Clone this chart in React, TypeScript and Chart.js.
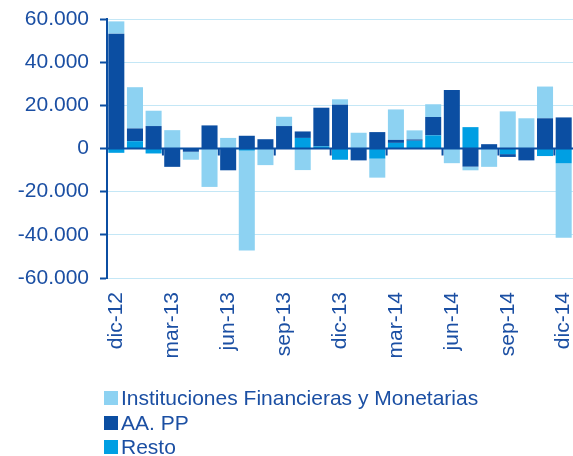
import React, { useEffect, useRef } from "react";
import { Chart, registerables } from "chart.js";
Chart.register(...registerables);

const categories = ["dic-12","ene-13","feb-13","mar-13","abr-13","may-13","jun-13","jul-13","ago-13","sep-13","oct-13","nov-13","dic-13","ene-14","feb-14","mar-14","abr-14","may-14","jun-14","jul-14","ago-14","sep-14","oct-14","nov-14","dic-14"];
const resto = [-2000, 3400, -2300, 0, 0, 0, 0, -1000, 0, 0, 4900, 1000, -5200, 0, -4700, 2600, 3600, 6100, 0, 9900, 0, -2600, 0, -3500, -6900];
const aapp = [53200, 5900, 10400, -8500, -1500, 10700, -10100, 5900, 4300, 10400, 3000, 17900, 20300, -5500, 7600, 1400, 600, 8500, 27100, -8400, 2000, -1300, -5500, 14000, 14400];
const ifm = [5700, 19100, 7100, 8500, -3700, -17800, 4900, -46300, -7700, 4300, -10000, 0, 2500, 7300, -8800, 14100, 4200, 5900, -6800, -1700, -8500, 17200, 14000, 14700, -34500];
const seriesNames = ["Instituciones Financieras y Monetarias", "AA. PP", "Resto"];
const yMin = -60000;
const yMax = 60000;
const yStep = 20000;

const C_LIGHT = "#8dd2f2";
const C_DARK = "#0b4ea2";
const C_MID = "#009fe3";
const C_TEXT = "#1b4fa3";
const C_GRID = "#c4e7f6";
const FONT = "'Liberation Sans', Arial, sans-serif";
const FS = 21;

const fmt = (v: number) => {
  const s = Math.abs(v).toString().replace(/\B(?=(\d{3})+(?!\d))/g, ".");
  return (v < 0 ? "-" : "") + s;
};

const zeroLinePlugin = {
  id: "zeroLine",
  afterDatasetsDraw(chart: any) {
    const { ctx, chartArea, scales } = chart;
    const x = scales.x;
    const y = scales.y;
    const y0 = y.getPixelForValue(0);
    ctx.save();
    ctx.strokeStyle = C_DARK;
    ctx.lineWidth = 2;
    ctx.beginPath();
    ctx.moveTo(chartArea.left, y0);
    ctx.lineTo(chartArea.right, y0);
    ctx.stroke();
    for (let i = 3; i < categories.length; i += 3) {
      const xb = (x.getPixelForValue(i - 1) + x.getPixelForValue(i)) / 2;
      ctx.beginPath();
      ctx.moveTo(xb, y0);
      ctx.lineTo(xb, y0 + 7);
      ctx.stroke();
    }
    ctx.restore();
  },
};

export default function App() {
  const ref = useRef<HTMLCanvasElement | null>(null);
  useEffect(() => {
    if (!ref.current) return;
    const chart = new Chart(ref.current, {
      type: "bar",
      data: {
        labels: categories,
        datasets: [
          { label: seriesNames[2], data: resto, backgroundColor: C_MID, borderWidth: 0 },
          { label: seriesNames[1], data: aapp, backgroundColor: C_DARK, borderWidth: 0 },
          { label: seriesNames[0], data: ifm, backgroundColor: C_LIGHT, borderWidth: 0 },
        ],
      },
      options: {
        responsive: false,
        animation: false,
        devicePixelRatio: 1,
        layout: { padding: { top: 19, right: 0, left: 0, bottom: 0 } },
        datasets: { bar: { categoryPercentage: 1, barPercentage: 0.86 } },
        plugins: { legend: { display: false }, tooltip: { enabled: false } },
        scales: {
          x: {
            stacked: true,
            grid: { display: false },
            border: { display: false },
            ticks: {
              autoSkip: false,
              maxRotation: 90,
              minRotation: 90,
              padding: 6,
              color: C_TEXT,
              font: { family: FONT, size: FS },
              callback: (_v: any, i: number) => (i % 3 === 0 ? categories[i] : ""),
            },
            afterFit: (s: any) => { s.height = 178; s.paddingLeft = 0; s.paddingRight = 0; },
          },
          y: {
            stacked: true,
            min: yMin,
            max: yMax,
            grid: {
              color: C_GRID,
              lineWidth: 1,
              tickColor: C_DARK,
              tickLength: 7,
              tickWidth: 2,
            },
            border: { color: C_DARK, width: 2 },
            ticks: {
              stepSize: yStep,
              padding: 11,
              color: C_TEXT,
              font: { family: FONT, size: FS },
              callback: (v: any) => fmt(Number(v)),
            },
            afterFit: (s: any) => { s.width = 107; s.paddingTop = 0; s.paddingBottom = 0; },
          },
        },
      },
      plugins: [zeroLinePlugin],
    } as any);
    return () => chart.destroy();
  }, []);

  const legendItems = [
    { name: seriesNames[0], color: C_LIGHT },
    { name: seriesNames[1], color: C_DARK },
    { name: seriesNames[2], color: C_MID },
  ];

  return (
    <div style={{ position: "fixed", left: 0, top: 0, width: 573, height: 456, background: "#fff" }}>
      <canvas ref={ref} width={573} height={456} style={{ display: "block", width: 573, height: 456 }} />
      <div style={{ position: "absolute", left: 104, top: 386, fontFamily: FONT, fontSize: FS, color: C_TEXT }}>
        {legendItems.map((it) => (
          <div key={it.name} style={{ display: "flex", alignItems: "center", height: 24.5, lineHeight: "24.5px", whiteSpace: "nowrap" }}>
            <span style={{ display: "inline-block", width: 14, height: 14, background: it.color, marginRight: 3 }} />
            <span>{it.name}</span>
          </div>
        ))}
      </div>
    </div>
  );
}
